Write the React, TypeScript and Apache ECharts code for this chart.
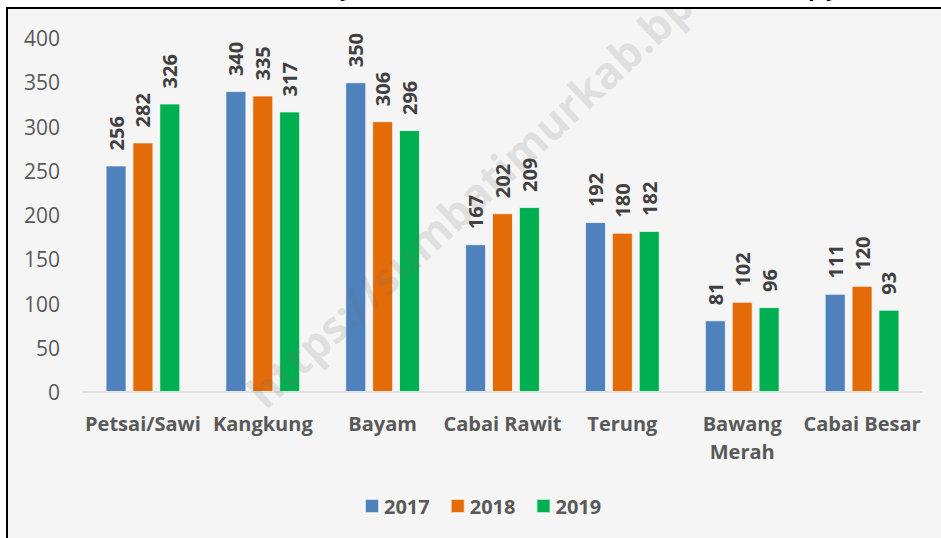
import React, { useEffect, useRef } from "react";
import * as echarts from "echarts";

const categories = ["Petsai/Sawi", "Kangkung", "Bayam", "Cabai Rawit", "Terung", "Bawang\nMerah", "Cabai Besar"];
const years = ["2017", "2018", "2019"];
const values2017 = [256, 340, 350, 167, 192, 81, 111];
const values2018 = [282, 335, 306, 202, 180, 102, 120];
const values2019 = [326, 317, 296, 209, 182, 96, 93];
const yTicks = { min: 0, max: 400, interval: 50 };
const colors = ["#4F81BD", "#E36C09", "#00B050"];
const watermarkText = "https://sumbatimurkab.bps.go.id";

const FONT = "'Open Sans', 'Noto Sans', sans-serif";

export default function App() {
  const ref = useRef<HTMLDivElement>(null);
  useEffect(() => {
    if (!ref.current) return;
    const chart = echarts.init(ref.current, null, { renderer: "svg" });
    const seriesData = [values2017, values2018, values2019];
    chart.setOption({
      animation: false,
      backgroundColor: "#f5f5f5",
      textStyle: { fontFamily: FONT },
      grid: { left: 83, right: 19, top: 38, bottom: 146, containLabel: false },
      legend: {
        data: years,
        left: 364,
        top: 496,
        padding: 0,
        icon: "rect",
        itemWidth: 14,
        itemHeight: 14,
        itemGap: 20,
        textStyle: { color: "#595959", fontSize: 20, fontWeight: "bold", fontFamily: FONT },
      },
      xAxis: {
        type: "category",
        data: categories,
        axisLine: { lineStyle: { color: "#d9d9d9", width: 1.5 } },
        axisTick: { show: false },
        axisLabel: {
          interval: 0,
          color: "#595959",
          fontSize: 20,
          fontWeight: "bold",
          fontFamily: FONT,
          margin: 17,
          lineHeight: 28,
        },
      },
      yAxis: {
        type: "value",
        min: yTicks.min,
        max: yTicks.max,
        interval: yTicks.interval,
        axisLine: { show: false },
        axisTick: { show: false },
        splitLine: { show: false },
        axisLabel: { color: "#595959", fontSize: 21, fontFamily: FONT, margin: 23 },
      },
      series: years.map((y, i) => ({
        name: y,
        type: "bar",
        data: seriesData[i],
        barWidth: 21,
        barGap: "28%",
        itemStyle: { color: colors[i], borderColor: "rgba(255,255,255,0.7)", borderWidth: 1 },
        label: {
          show: true,
          position: "top",
          rotate: 90,
          align: "left",
          verticalAlign: "middle",
          distance: 15,
          color: "#404040",
          fontSize: 20,
          fontWeight: "bold",
          fontFamily: FONT,
        },
      })),
      graphic: [
        {
          type: "text",
          x: 521,
          y: 150,
          rotation: 0.75,
          z: 10,
          silent: true,
          style: {
            text: watermarkText,
            fill: "rgba(110,110,110,0.17)",
            font: `bold 44px ${FONT}`,
            align: "center",
            verticalAlign: "middle",
          },
        },
        { type: "rect", z: 20, silent: true, shape: { x: 0, y: 0, width: 941, height: 7 }, style: { fill: "#ffffff" } },
        { type: "rect", z: 20, silent: true, shape: { x: 0, y: 0, width: 6, height: 538 }, style: { fill: "#ffffff" } },
        {
          type: "text",
          z: 21,
          x: 340,
          y: -24,
          silent: true,
          style: { text: "y", fill: "#000", font: `bold 22px ${FONT}`, verticalAlign: "top" },
        },
        {
          type: "text",
          z: 21,
          x: 808,
          y: -24,
          silent: true,
          style: { text: "p", fill: "#000", font: `bold 22px ${FONT}`, verticalAlign: "top" },
        },
        {
          type: "text",
          z: 21,
          x: 826,
          y: -24,
          silent: true,
          style: { text: "y", fill: "#000", font: `bold 22px ${FONT}`, verticalAlign: "top" },
        },
        {
          type: "line",
          z: 22,
          silent: true,
          shape: { x1: 6, y1: 8, x2: 941, y2: 8 },
          style: { stroke: "#000", lineWidth: 2 },
        },
        {
          type: "line",
          z: 22,
          silent: true,
          shape: { x1: 7, y1: 7, x2: 7, y2: 538 },
          style: { stroke: "#000", lineWidth: 2 },
        },
      ],
    });
    return () => chart.dispose();
  }, []);
  return (
    <div
      ref={ref}
      style={{ position: "fixed", left: 0, top: 0, width: 941, height: 538 }}
    />
  );
}
